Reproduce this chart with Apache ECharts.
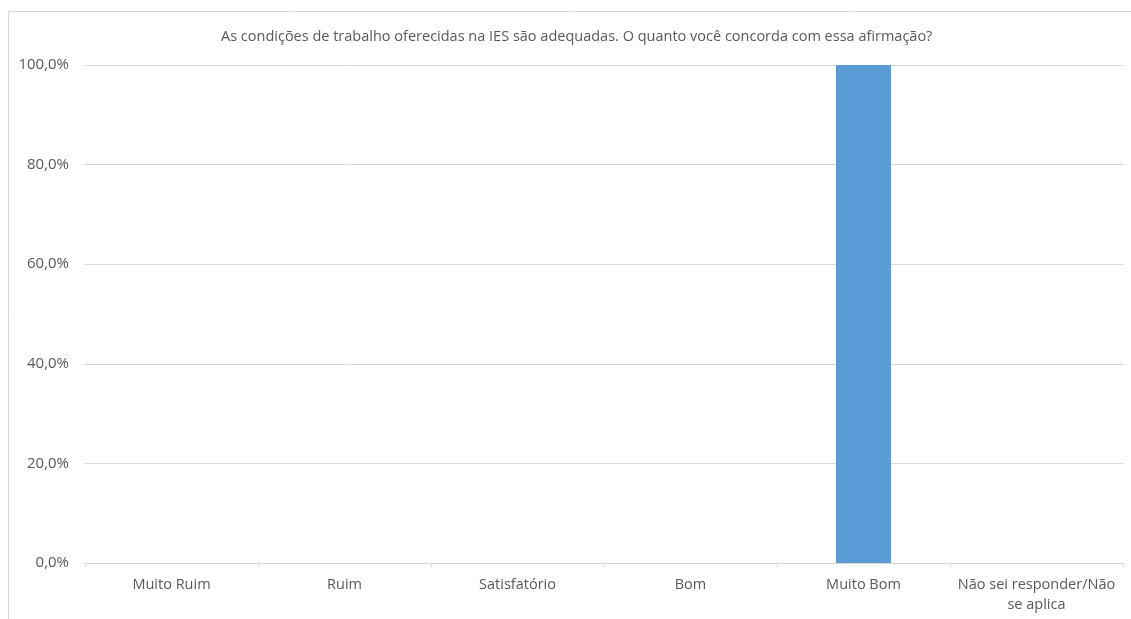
<!DOCTYPE html>
<html><head><meta charset="utf-8">
<script src="https://cdn.jsdelivr.net/npm/echarts@6/dist/echarts.min.js"></script>
<style>html,body{margin:0;padding:0;background:#fff}#c{width:1131px;height:619px}</style>
</head><body><div id="c"></div>
<script>
const titleText = 'As condições de trabalho oferecidas na IES são adequadas. O quanto você concorda com essa afirmação?';
const categories = ['Muito Ruim','Ruim','Satisfatório','Bom','Muito Bom','Não sei responder/Não se aplica'];
const values = [0,0,0,0,100,0];
const yTicks = [0,20,40,60,80,100];

const chart = echarts.init(document.getElementById('c'));
const font = '"Open Sans", "Liberation Sans", sans-serif';
chart.setOption({
  animation:false,
  graphic:[{type:'rect',shape:{x:8.5,y:11.5,width:1140,height:620},style:{fill:'none',stroke:'#d9d9d9',lineWidth:1},silent:true}],
  title:{text:titleText,left:216,top:24,textStyle:{fontFamily:font,fontSize:14.5,fontWeight:'normal',color:'#595959'}},
  grid:{left:85,right:8,top:65,bottom:56,containLabel:false},
  xAxis:{type:'category',data:categories,
    axisLine:{lineStyle:{color:'#d9d9d9'}},
    axisTick:{show:true,length:4,lineStyle:{color:'#d9d9d9'}},
    axisLabel:{fontFamily:font,fontSize:14.5,color:'#595959',margin:12,interval:0,
      formatter:v=>v==='Não sei responder/Não se aplica'?'Não sei responder/Não\nse aplica':v,lineHeight:20}},
  yAxis:{type:'value',min:0,max:100,interval:20,
    axisLine:{show:false},axisTick:{show:false},
    splitLine:{lineStyle:{color:'#d9d9d9'}},
    axisLabel:{fontFamily:font,fontSize:15,color:'#595959',margin:16,
      formatter:v=>yTicks.includes(v)?v.toFixed(1).replace('.',',')+'%':''}},
  series:[{type:'bar',data:values,barWidth:55,itemStyle:{color:'#5b9bd5'}}]
});
</script></body></html>
